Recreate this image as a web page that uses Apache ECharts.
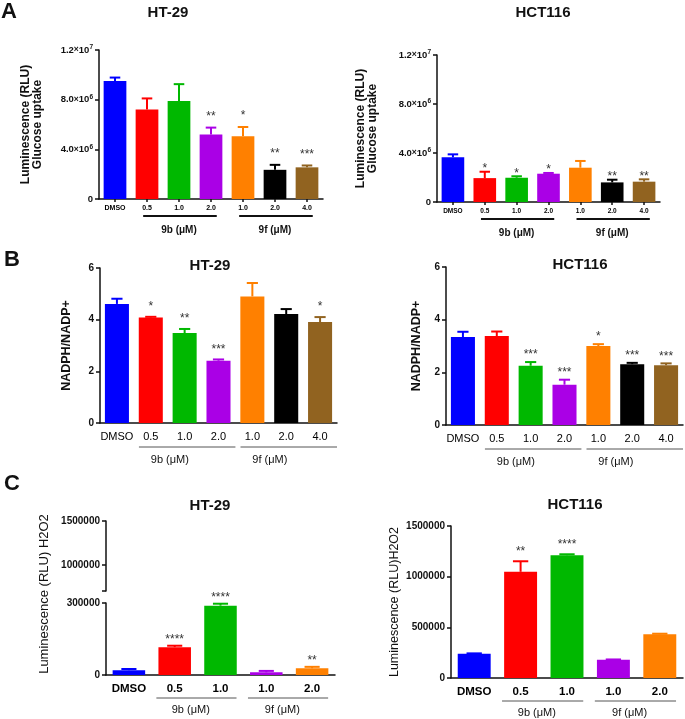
<!DOCTYPE html>
<html style="height: 100%">
<head>
    <meta charset="utf-8">
    <title>Glucose uptake, NADPH/NADP+ and H2O2</title>
</head>
<body style="height: 100%; margin: 0; background: #fff">
<div id="container" style="width: 685px; height: 719px"></div>
<script type="text/javascript" src="https://cdn.jsdelivr.net/npm/echarts@6.0.0/dist/echarts.min.js"></script>
<script type="text/javascript">
var FONT = '"Liberation Sans", Arial, sans-serif';

// categories
var catsSeven = ['DMSO', '0.5', '1.0', '2.0', '1.0', '2.0', '4.0'];
var catsFive = ['DMSO', '0.5', '1.0', '1.0', '2.0'];
var groupNames = ['9b (\u03bcM)', '9f (\u03bcM)'];
var groupsSeven = [[1, 3], [4, 6]];
var groupsFive = [[1, 2], [3, 4]];
var colorsSeven = ['#0000ff', '#ff0000', '#00b800', '#aa00e6', '#ff8000', '#000000', '#916320'];
var colorsFive = ['#0000ff', '#ff0000', '#00b800', '#aa00e6', '#ff8000'];

// A: glucose uptake (RLU)
var glucoseHT29 = [9.5e6, 7.2e6, 7.9e6, 5.2e6, 5.05e6, 2.35e6, 2.55e6];
var glucoseHT29Err = [0.28e6, 0.9e6, 1.35e6, 0.55e6, 0.75e6, 0.4e6, 0.15e6];
var glucoseHT29Sig = ['', '', '', '**', '*', '**', '***'];
var glucoseHCT116 = [3.65e6, 1.95e6, 1.98e6, 2.31e6, 2.8e6, 1.6e6, 1.66e6];
var glucoseHCT116Err = [0.24e6, 0.52e6, 0.12e6, 0.06e6, 0.55e6, 0.22e6, 0.19e6];
var glucoseHCT116Sig = ['', '*', '*', '*', '', '**', '**'];

// B: NADPH/NADP+
var nadphHT29 = [4.61, 4.08, 3.48, 2.41, 4.9, 4.22, 3.91];
var nadphHT29Err = [0.2, 0.03, 0.16, 0.05, 0.52, 0.19, 0.19];
var nadphHT29Sig = ['', '*', '**', '***', '', '', '*'];
var nadphHCT116 = [3.34, 3.38, 2.25, 1.53, 3.0, 2.31, 2.27];
var nadphHCT116Err = [0.2, 0.17, 0.14, 0.19, 0.07, 0.05, 0.07];
var nadphHCT116Sig = ['', '', '***', '***', '*', '***', '***'];

// C: H2O2 (RLU)
var h2o2HT29 = [20000, 116000, 289000, 11000, 28000];
var h2o2HT29Err = [5000, 6000, 8000, 6000, 6000];
var h2o2HT29Sig = ['', '****', '****', '', '**'];
var h2o2HCT116 = [239000, 1048000, 1211000, 180000, 432000];
var h2o2HCT116Err = [4000, 104000, 10000, 3000, 5000];
var h2o2HCT116Sig = ['', '**', '****', '', ''];

// tick labels
var ticksGlucose = [0, 4e6, 8e6, 1.2e7];
var ticksNadph = [0, 2, 4, 6];
var ticksH2O2Low = [0, 300000];
var ticksH2O2High = [1000000, 1500000];
var ticksH2O2 = [0, 500000, 1000000, 1500000];

var dom = document.getElementById('container');
var myChart = echarts.init(dom);

var grids = [], xAxes = [], yAxes = [], series = [];

function sciLabel(v) {
    if (v === 0) return '{m|0}';
    var e = Math.floor(Math.log10(v) + 1e-9);
    var m = v / Math.pow(10, e);
    return '{m|' + m.toFixed(1) + '}{x|\u00d7}{m|10}{s|' + e + '}';
}

function plainLabel(v) {
    return String(v);
}

function errorRender(colors, sig, starGap) {
    return function (params, api) {
        var i = api.value(0), m = api.value(1), e = api.value(2);
        var base = api.coord([i, m]);
        var top = api.coord([i, m + e]);
        var half = api.size([1, 0])[0] * 0.165;
        var col = colors[params.dataIndex];
        var kids = [
            {type: 'line', shape: {x1: base[0], y1: base[1], x2: top[0], y2: top[1]}, style: {stroke: col, lineWidth: 2}},
            {type: 'line', shape: {x1: top[0] - half, y1: top[1], x2: top[0] + half, y2: top[1]}, style: {stroke: col, lineWidth: 2}}
        ];
        var s = sig[params.dataIndex];
        if (s) {
            kids.push({type: 'text', style: {
                text: s, x: top[0], y: top[1] - starGap, align: 'center', verticalAlign: 'middle',
                fontSize: 12, fontFamily: FONT, fill: '#333'
            }});
        }
        return {type: 'group', children: kids};
    };
}

function groupRender(p) {
    return function (params, api) {
        var c0 = api.coord([api.value(0), 0]);
        var c1 = api.coord([api.value(1), 0]);
        var band = api.size([1, 0])[0];
        var y = c0[1] + p.lineOff;
        var tx = p.labelLeft ? c0[0] + band * p.labelShift : (c0[0] + c1[0]) / 2 + band * p.labelShift;
        return {type: 'group', children: [
            {type: 'line', shape: {x1: c0[0] - band * p.padL, y1: y, x2: c1[0] + band * p.padR, y2: y},
                style: {stroke: p.lineColor, lineWidth: p.lineWidth}},
            {type: 'text', style: {
                text: groupNames[params.dataIndex], x: tx, y: c0[1] + p.labelOff,
                align: p.labelLeft ? 'left' : 'center', verticalAlign: 'middle',
                fontSize: p.labelSize, fontWeight: p.labelWeight, fontFamily: FONT, fill: '#111'
            }}
        ]};
    };
}

function addPanel(p) {
    var gi = grids.length;
    grids.push({left: p.left, top: p.top, width: p.width, height: p.height});
    xAxes.push({
        gridIndex: gi, type: 'category', data: p.cats,
        axisLine: {lineStyle: {color: '#111', width: 1.5}},
        axisTick: {show: p.xTicks, alignWithLabel: true, length: 3, lineStyle: {color: '#111', width: 1.5}},
        axisLabel: {color: '#000', fontSize: p.xSize, fontWeight: p.xWeight, fontFamily: FONT, margin: p.xMargin,
            interval: 0, hideOverlap: false}
    });
    var yAxis = {
        gridIndex: gi, type: 'value', min: p.min, max: p.max,
        splitLine: {show: false},
        axisLine: {show: true, lineStyle: {color: '#111', width: 1.5}},
        axisTick: {show: true, length: 4, lineStyle: {color: '#111', width: 1.5}},
        axisLabel: {color: '#111', fontSize: p.ySize, fontWeight: 'bold', fontFamily: FONT, margin: 6,
            customValues: p.ticks, formatter: plainLabel},
        name: p.yName, nameLocation: 'middle', nameGap: p.nameGap,
        nameTextStyle: {color: '#111', fontSize: p.nameSize, fontWeight: p.nameWeight, fontFamily: FONT, lineHeight: 12}
    };
    yAxis.axisTick.customValues = p.ticks;
    if (p.sci) {
        yAxis.axisLabel.formatter = sciLabel;
        yAxis.axisLabel.rich = {
            m: {fontSize: 9.5, fontWeight: 'bold', fontFamily: FONT, color: '#111', lineHeight: 12},
            x: {fontSize: 8.5, fontFamily: FONT, color: '#111'},
            s: {fontSize: 6.5, fontWeight: 'bold', fontFamily: FONT, color: '#111', verticalAlign: 'top'}
        };
    }
    yAxes.push(yAxis);
    series.push({
        type: 'bar', xAxisIndex: gi, yAxisIndex: gi, barCategoryGap: '29%',
        data: p.values.map(function (v, i) { return {value: v, itemStyle: {color: p.colors[i]}}; })
    });
    series.push({
        type: 'custom', xAxisIndex: gi, yAxisIndex: gi, clip: false, z: 3,
        renderItem: errorRender(p.colors, p.sig, p.starGap),
        encode: {x: 0, y: 1},
        data: p.values.map(function (v, i) { return [i, v, p.err[i]]; })
    });
    series.push({
        type: 'custom', xAxisIndex: gi, yAxisIndex: gi, clip: false, silent: true,
        renderItem: groupRender(p.group),
        encode: {x: 0, y: 2},
        data: p.groups.map(function (g) { return [g[0], g[1], 0]; })
    });
}

var groupA = {lineOff: 17, labelOff: 31, padL: 0.12, padR: 0.18, labelShift: 0, labelLeft: false,
    lineColor: '#111', lineWidth: 2, labelSize: 10, labelWeight: 'bold'};
var groupB = {lineOff: 24, labelOff: 37, padL: 0.35, padR: 0.5, labelShift: 0, labelLeft: true,
    lineColor: '#555', lineWidth: 1, labelSize: 11, labelWeight: 'normal'};
var groupC = {lineOff: 23, labelOff: 35, padL: 0.4, padR: 0.35, labelShift: -0.15, labelLeft: false,
    lineColor: '#555', lineWidth: 1, labelSize: 11, labelWeight: 'normal'};

addPanel({left: 99, top: 50, width: 224, height: 149, cats: catsSeven, colors: colorsSeven,
    values: glucoseHT29, err: glucoseHT29Err, sig: glucoseHT29Sig, starGap: 11,
    min: 0, max: 1.2e7, ticks: ticksGlucose, sci: true, ySize: 9,
    xTicks: true, xSize: 7, xWeight: 'bold', xMargin: 6,
    yName: 'Luminescence (RLU)\nGlucose uptake', nameGap: 55, nameSize: 12, nameWeight: 'bold',
    groups: groupsSeven, group: groupA});
addPanel({left: 437, top: 55, width: 223, height: 147, cats: catsSeven, colors: colorsSeven,
    values: glucoseHCT116, err: glucoseHCT116Err, sig: glucoseHCT116Sig, starGap: 3,
    min: 0, max: 1.2e7, ticks: ticksGlucose, sci: true, ySize: 9,
    xTicks: true, xSize: 6.5, xWeight: 'bold', xMargin: 6,
    yName: 'Luminescence (RLU)\nGlucose uptake', nameGap: 58, nameSize: 12, nameWeight: 'bold',
    groups: groupsSeven, group: groupA});
addPanel({left: 100, top: 268, width: 237, height: 155, cats: catsSeven, colors: colorsSeven,
    values: nadphHT29, err: nadphHT29Err, sig: nadphHT29Sig, starGap: 10,
    min: 0, max: 6, ticks: ticksNadph, ySize: 10,
    xTicks: false, xSize: 11, xWeight: 'normal', xMargin: 8,
    yName: 'NADPH/NADP+', nameGap: 27, nameSize: 12.5, nameWeight: 'bold',
    groups: groupsSeven, group: groupB});
addPanel({left: 446, top: 267, width: 237, height: 158, cats: catsSeven, colors: colorsSeven,
    values: nadphHCT116, err: nadphHCT116Err, sig: nadphHCT116Sig, starGap: 7,
    min: 0, max: 6, ticks: ticksNadph, ySize: 10,
    xTicks: false, xSize: 11, xWeight: 'normal', xMargin: 8,
    yName: 'NADPH/NADP+', nameGap: 23, nameSize: 12.5, nameWeight: 'bold',
    groups: groupsSeven, group: groupB});

// C HT-29: broken axis, upper segment has only the axis
var upper = grids.length;
grids.push({left: 106, top: 521, width: 229, height: 70});
xAxes.push({gridIndex: upper, type: 'category', data: catsFive, show: false});
yAxes.push({
    gridIndex: upper, type: 'value', min: 700000, max: 1500000, splitLine: {show: false},
    axisLine: {show: true, lineStyle: {color: '#111', width: 1.5}},
    axisTick: {show: true, length: 4, lineStyle: {color: '#111', width: 1.5}, customValues: [700000].concat(ticksH2O2High)},
    axisLabel: {color: '#111', fontSize: 10, fontWeight: 'bold', fontFamily: FONT, margin: 6,
        customValues: ticksH2O2High, formatter: plainLabel}
});
series.push({type: 'bar', xAxisIndex: upper, yAxisIndex: upper, data: []});

addPanel({left: 106, top: 603, width: 229, height: 72, cats: catsFive, colors: colorsFive,
    values: h2o2HT29, err: h2o2HT29Err, sig: h2o2HT29Sig, starGap: 6,
    min: 0, max: 300000, ticks: ticksH2O2Low, ySize: 10,
    xTicks: false, xSize: 11.5, xWeight: 'bold', xMargin: 8,
    yName: '', nameGap: 0, nameSize: 12, nameWeight: 'normal',
    groups: groupsFive, group: groupC});
addPanel({left: 451, top: 526, width: 232, height: 152, cats: catsFive, colors: colorsFive,
    values: h2o2HCT116, err: h2o2HCT116Err, sig: h2o2HCT116Sig, starGap: 10,
    min: 0, max: 1500000, ticks: ticksH2O2, ySize: 10,
    xTicks: false, xSize: 11.5, xWeight: 'bold', xMargin: 8,
    yName: 'Luminescence (RLU)H2O2', nameGap: 50, nameSize: 12.5, nameWeight: 'normal',
    groups: groupsFive, group: groupC});

function label(text, x, y, size, rot) {
    return {type: 'text', x: x, y: y, rotation: rot || 0, z: 10, style: {
        text: text, font: 'bold ' + size + 'px ' + FONT, fill: '#111',
        align: 'center', verticalAlign: 'middle', textAlign: 'center', textVerticalAlign: 'middle'
    }};
}

var option = {
    backgroundColor: '#fff',
    animation: false,
    grid: grids,
    xAxis: xAxes,
    yAxis: yAxes,
    series: series,
    graphic: [
        label('A', 9, 12, 22), label('B', 12, 260, 22), label('C', 12, 484, 22),
        label('HT-29', 168, 13, 15), label('HCT116', 543, 13, 15),
        label('HT-29', 210, 266, 15), label('HCT116', 580, 265, 15),
        label('HT-29', 210, 506, 15), label('HCT116', 575, 505, 15),
        {type: 'text', x: 44, y: 594, rotation: Math.PI / 2, style: {
            text: 'Luminescence (RLU) H2O2', font: '13px ' + FONT, fill: '#111',
            align: 'center', verticalAlign: 'middle', textAlign: 'center', textVerticalAlign: 'middle'
        }}
    ]
};

myChart.setOption(option);
window.onresize = function () {
    myChart.resize();
};
</script>
</body>
</html>
